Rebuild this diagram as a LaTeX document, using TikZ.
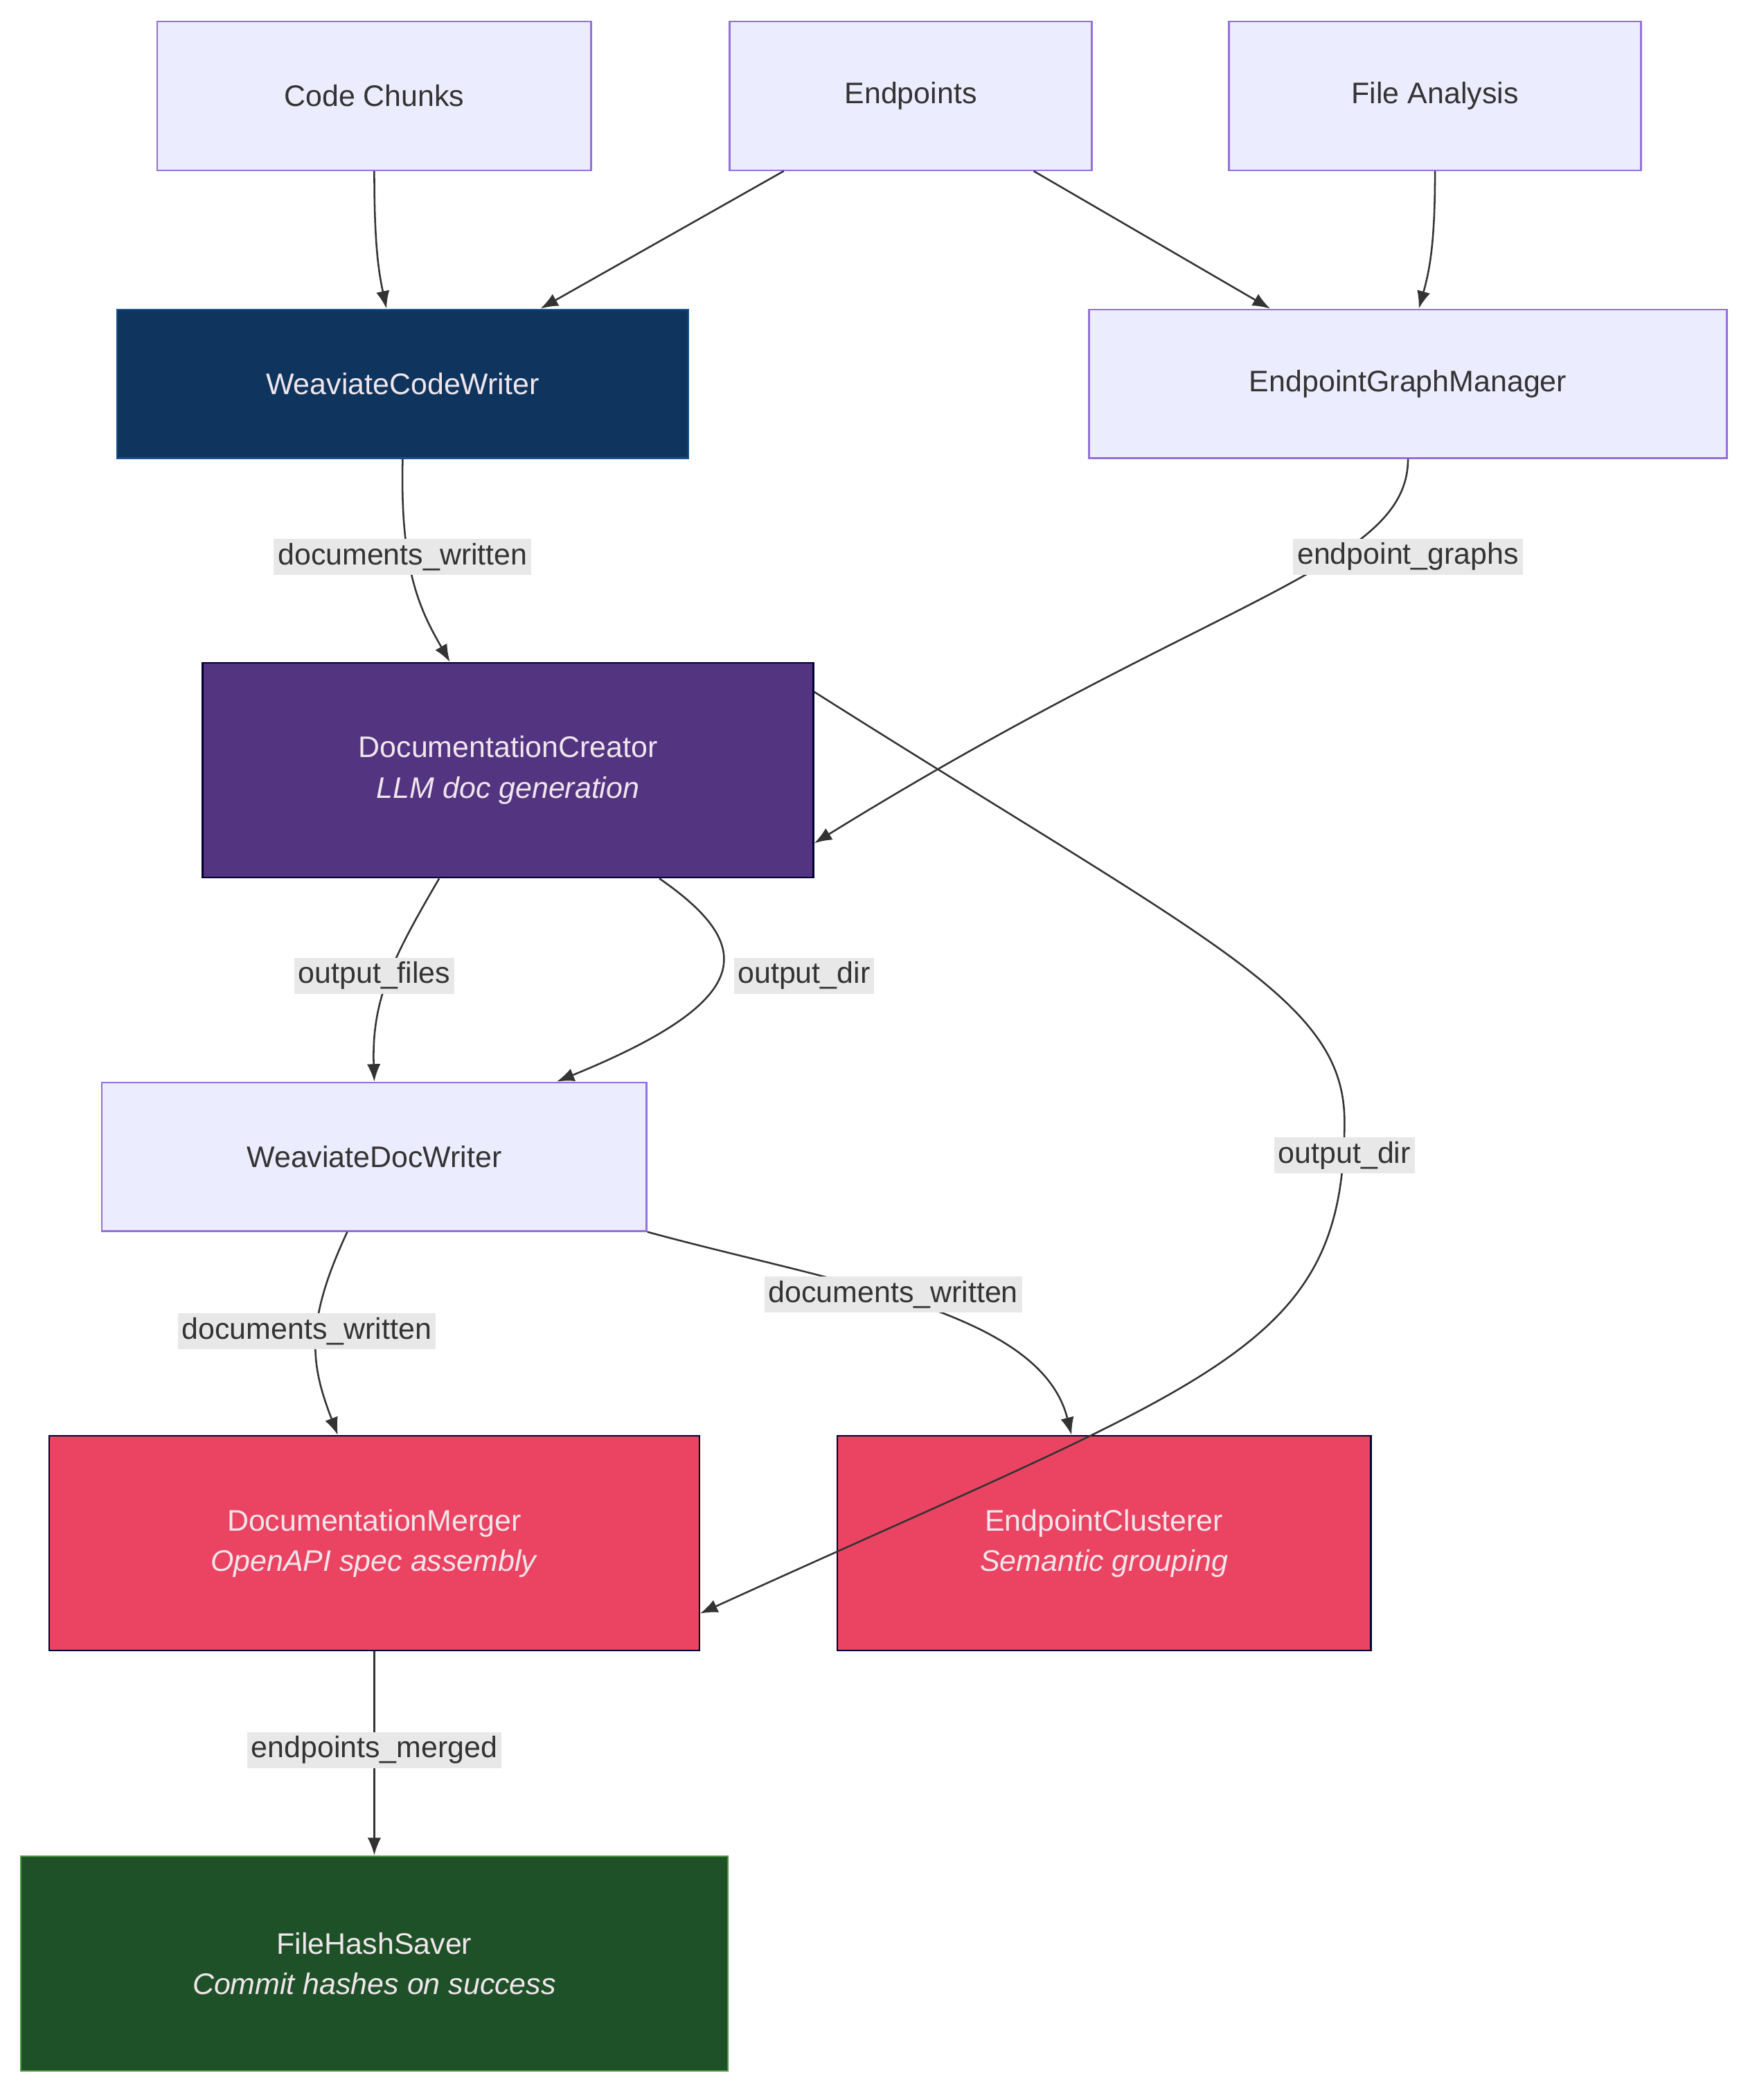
\documentclass[tikz,border=0pt]{standalone}
\usepackage{fontspec}
\setmainfont{Liberation Sans}
\usetikzlibrary{arrows.meta}
\definecolor{lav}{HTML}{ECECFF}
\definecolor{lavb}{HTML}{9370DB}
\definecolor{dblue}{HTML}{0F355E}
\definecolor{dblueb}{HTML}{1C4E8A}
\definecolor{purp}{HTML}{523480}
\definecolor{redf}{HTML}{EA4462}
\definecolor{grnf}{HTML}{1F5128}
\definecolor{grnb}{HTML}{4A9A3A}
\definecolor{txt}{HTML}{333333}
\definecolor{lightt}{HTML}{F0E6EC}
\definecolor{lblbg}{HTML}{E8E8E8}
\tikzset{
 base/.style={draw, line width=1.2pt, minimum height=110pt, align=center, font=\fontsize{22}{30}\selectfont, inner sep=0pt},
 lavbox/.style={base, fill=lav, draw=lavb, text=txt},
 dkbox/.style={base, minimum height=159pt, text=lightt, draw=black!80!blue},
 lbl/.style={fill=lblbg, text=txt, font=\fontsize{22}{26}\selectfont, inner sep=3pt},
 conn/.style={draw=txt, line width=1.3pt, -{Latex[length=13pt,width=10pt]}},
}
\begin{document}
\begin{tikzpicture}[x=1pt,y=-1pt]
\useasboundingbox[fill=white] (0,0) rectangle (1300,1554);
\node[lavbox, minimum width=321pt] (cc) at (277,71) {Code Chunks};
\node[lavbox, minimum width=268pt] (ep) at (674,71) {Endpoints};
\node[lavbox, minimum width=305pt] (fa) at (1062,71) {File Analysis};
\node[base, fill=dblue, draw=dblueb, text=lightt, minimum width=423pt] (wcw) at (298,284) {WeaviateCodeWriter};
\node[lavbox, minimum width=472pt] (egm) at (1042,284) {EndpointGraphManager};
\node[dkbox, fill=purp, minimum width=452pt] (dc) at (376,570) {DocumentationCreator\\\textit{LLM doc generation}};
\node[lavbox, minimum width=403pt] (wdw) at (277,856) {WeaviateDocWriter};
\node[dkbox, fill=redf, minimum width=481pt] (dm) at (277,1142) {DocumentationMerger\\\textit{OpenAPI spec assembly}};
\node[dkbox, fill=redf, minimum width=395pt] (ec) at (817,1142) {EndpointClusterer\\\textit{Semantic grouping}};
\node[dkbox, fill=grnf, draw=grnb, minimum width=523pt] (fhs) at (277,1453) {FileHashSaver\\\textit{Commit hashes on success}};

\draw[conn] (cc.south) .. controls (277,180) and (280,200) .. ([xshift=-12pt]wcw.north);
\draw[conn] ([xshift=-94pt]ep.south) -- ([xshift=102pt]wcw.north);
\draw[conn] ([xshift=91pt]ep.south) -- ([xshift=-102pt]egm.north);
\draw[conn] (fa.south) .. controls (1062,180) and (1058,200) .. ([xshift=8pt]egm.north);
\draw[conn] (wcw.south) .. controls (296,420) and (310,450) .. ([xshift=-43pt]dc.north);
\draw[conn] (egm.south) .. controls (1042,420) and (900,440) .. ([yshift=-54pt]dc.east);
\draw[conn] ([xshift=-51pt]dc.south) .. controls (290,710) and (275,740) .. (wdw.north);
\draw[conn] ([xshift=112pt]dc.south) .. controls (560,700) and (560,740) .. ([xshift=135pt]wdw.north);
\draw[conn] ([yshift=58pt]dc.east) .. controls (900,700) and (995,740) .. (995,830)
  .. controls (995,1000) and (900,1020) .. ([yshift=-52pt]dm.east);
\draw[conn] ([xshift=-20pt]wdw.south) .. controls (225,980) and (230,1010) .. ([xshift=-27pt]dm.north);
\draw[conn] (wdw.south east) .. controls (620,950) and (770,970) .. ([xshift=-24pt]ec.north);
\draw[conn] (dm.south) -- (fhs.north);

\node[lbl] (l1) at (298,412) {documents\_written};
\node[lbl] (l2) at (1042,412) {endpoint\_graphs};
\node[lbl] (l3) at (277,722) {output\_files};
\node[lbl] (l4) at (595,722) {output\_dir};
\node[lbl] (l5) at (995,855) {output\_dir};
\node[lbl] (l6) at (227,985) {documents\_written};
\node[lbl] (l7) at (661,958) {documents\_written};
\node[lbl] (l8) at (277,1295) {endpoints\_merged};
\end{tikzpicture}
\end{document}
